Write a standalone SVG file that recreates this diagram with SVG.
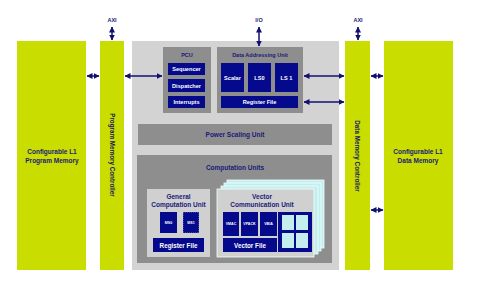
<svg xmlns="http://www.w3.org/2000/svg" width="480" height="284" viewBox="0 0 480 284">
<style>
.grn{fill:#c9dd00}
.lg{fill:#d3d3d3}
.dg{fill:#8e8e8e}
.nv{fill:#050a8c}
.t{font-family:"Liberation Sans",Arial,sans-serif;font-weight:bold;text-anchor:middle;dominant-baseline:central}
.w{fill:#ffffff;font-size:5.6px}
.n{fill:#1a1a78;font-size:6.5px}
.ns{fill:#1a1a78;font-size:5.5px}
.conn{stroke:#101070;stroke-width:1.5;fill:none;marker-start:url(#ah);marker-end:url(#ah)}
</style>
<defs>
<marker id="ah" viewBox="0 0 6 6" refX="5.5" refY="3" markerWidth="4" markerHeight="4" orient="auto-start-reverse" markerUnits="strokeWidth">
<path d="M0,0 L6,3 L0,6 Z" fill="#101070"/>
</marker>
</defs>
<rect width="480" height="284" fill="#ffffff"/>

<g id="prog-mem">
<rect class="grn" x="17" y="41" width="69" height="229"/>
<text class="t n" x="52" y="151">Configurable L1</text>
<text class="t n" x="52" y="160">Program Memory</text>
</g>

<g id="prog-ctrl">
<rect class="grn" x="100" y="41" width="24" height="229"/>
<text class="t" x="112" y="155" transform="rotate(90 112 155)" style="font-size:6.3px;fill:#1a1a5a">Program Memory Controller</text>
</g>

<g id="core">
<rect class="lg" x="132" y="41" width="207" height="229"/>
</g>

<g id="pcu">
<rect class="dg" x="163" y="47" width="48" height="66"/>
<text class="t ns" x="187" y="55">PCU</text>
<rect class="nv" x="168" y="63" width="37" height="12"/>
<text class="t w" x="186.5" y="69">Sequencer</text>
<rect class="nv" x="168" y="79" width="37" height="13"/>
<text class="t w" x="186.5" y="85.5">Dispatcher</text>
<rect class="nv" x="168" y="96" width="37" height="12"/>
<text class="t w" x="186.5" y="102">Interrupts</text>
</g>

<g id="dau">
<rect class="dg" x="217" y="47" width="86" height="66"/>
<text class="t ns" x="260" y="55">Data Addressing Unit</text>
<rect class="nv" x="221" y="63" width="23" height="29"/>
<text class="t w" x="232.5" y="77.5">Scalar</text>
<rect class="nv" x="248" y="63" width="23" height="29"/>
<text class="t w" x="259.5" y="77.5">LS0</text>
<rect class="nv" x="275" y="63" width="23" height="29"/>
<text class="t w" x="286.5" y="77.5">LS 1</text>
<rect class="nv" x="221" y="96" width="77" height="12"/>
<text class="t w" x="259.5" y="102">Register File</text>
</g>

<g id="psu">
<rect class="dg" x="138" y="124" width="194" height="21"/>
<text class="t n" x="235" y="134.5">Power Scaling Unit</text>
</g>

<g id="cu">
<rect class="dg" x="137" y="155" width="195" height="108"/>
<text class="t n" x="235" y="167">Computation Units</text>
</g>

<g id="gcu">
<rect fill="#d0d0d0" x="147" y="189" width="63" height="68"/>
<text class="t n" x="178.5" y="196">General</text>
<text class="t n" x="178.5" y="204.5">Computation Unit</text>
<rect class="nv" x="160" y="212" width="17" height="21"/>
<text class="t w" x="168.5" y="222.5" style="font-size:3.6px">MS0</text>
<rect class="nv" x="183" y="212" width="16" height="21" stroke="#c8c8e0" stroke-width="0.6" stroke-dasharray="1 1"/>
<text class="t w" x="191" y="222.5" style="font-size:3.6px">MS1</text>
<rect class="nv" x="153" y="238" width="51" height="14"/>
<text class="t w" x="178.5" y="245" style="font-size:6.3px">Register File</text>
</g>

<g id="vcu">
<rect fill="#c4eeee" stroke="#f2ffff" stroke-width="0.8" x="227" y="180" width="97" height="68"/>
<rect fill="#c4eeee" stroke="#f2ffff" stroke-width="0.8" x="224" y="183" width="97" height="68"/>
<rect fill="#c4eeee" stroke="#f2ffff" stroke-width="0.8" x="221" y="186" width="97" height="68"/>
<rect fill="#d0d0d0" stroke="#f2ffff" stroke-width="0.8" x="217" y="189" width="97" height="68"/>
<text class="t n" x="262" y="196">Vector</text>
<text class="t n" x="262" y="204.5">Communication Unit</text>
<rect class="nv" x="223" y="212" width="16" height="24"/>
<text class="t w" x="231" y="224" style="font-size:3.6px">VMAC</text>
<rect class="nv" x="241" y="212" width="17" height="24"/>
<text class="t w" x="249.5" y="224" style="font-size:3.6px">VPACK</text>
<rect class="nv" x="260" y="212" width="17" height="24"/>
<text class="t w" x="268.5" y="224" style="font-size:3.6px">VBIA</text>
<rect class="nv" x="223" y="238" width="54" height="14"/>
<text class="t w" x="250" y="245" style="font-size:6.3px">Vector File</text>
<rect class="nv" x="278" y="212" width="34" height="40"/>
<rect fill="#c4eeee" x="282" y="215" width="12" height="15"/>
<rect fill="#c4eeee" x="296" y="215" width="12" height="15"/>
<rect fill="#c4eeee" x="282" y="233" width="12" height="15"/>
<rect fill="#c4eeee" x="296" y="233" width="12" height="15"/>
</g>

<g id="data-ctrl">
<rect class="grn" x="345" y="41" width="25" height="229"/>
<text class="t" x="357.5" y="156" transform="rotate(90 357.5 156)" style="font-size:6.3px;fill:#1a1a5a">Data Memory Controller</text>
</g>

<g id="data-mem">
<rect class="grn" x="384" y="41" width="69" height="229"/>
<text class="t n" x="418" y="151">Configurable L1</text>
<text class="t n" x="418" y="160">Data Memory</text>
</g>

<g id="labels">
<text class="t ns" x="112" y="20">AXI</text>
<text class="t ns" x="259" y="20">I/O</text>
<text class="t ns" x="358" y="20">AXI</text>
</g>

<g id="connectors">
<line class="conn" x1="112" y1="27" x2="112" y2="40"/>
<line class="conn" x1="259" y1="27" x2="259" y2="46"/>
<line class="conn" x1="358" y1="27" x2="358" y2="40"/>
<line class="conn" x1="87" y1="76" x2="99" y2="76"/>
<line class="conn" x1="125" y1="76" x2="162" y2="76"/>
<line class="conn" x1="304" y1="76" x2="344" y2="76"/>
<line class="conn" x1="304" y1="102" x2="344" y2="102"/>
<line class="conn" x1="371" y1="76" x2="383" y2="76"/>
<line class="conn" x1="371" y1="210" x2="383" y2="210"/>
</g>
</svg>
